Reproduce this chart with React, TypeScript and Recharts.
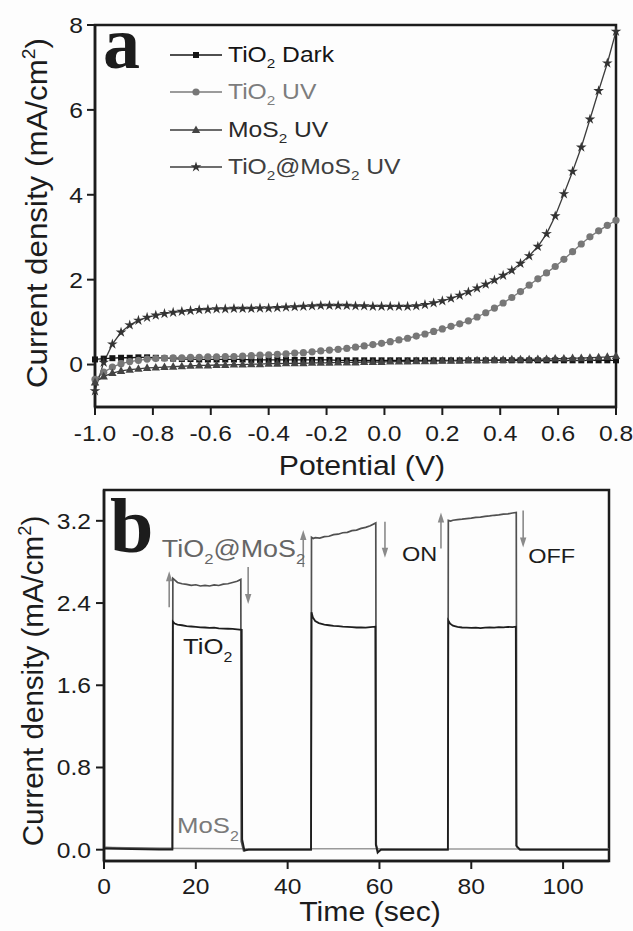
import React from 'react';
import { LineChart, Line, XAxis, YAxis, ReferenceArea, ReferenceDot, ReferenceLine, Legend } from 'recharts';

const FONT = '"Liberation Sans", Arial, Helvetica, sans-serif';
const SERIF = '"Liberation Serif", "Times New Roman", serif';
const INK = '#1c1c1c';
const SX = 1.12; // the lettering in this figure runs a little wide
const TICK = 22;

// ---------- (a) linear sweep, potential in V, current density in mA/cm2 ----------
const potential = [
  -1.0, -0.97, -0.94, -0.91, -0.88, -0.85, -0.82, -0.79, -0.76, -0.73,
  -0.7, -0.67, -0.64, -0.61, -0.58, -0.55, -0.52, -0.49, -0.46, -0.43,
  -0.4, -0.37, -0.34, -0.31, -0.28, -0.25, -0.22, -0.19, -0.16, -0.13,
  -0.1, -0.07, -0.04, -0.01, 0.02, 0.05, 0.08, 0.11, 0.14, 0.17,
  0.2, 0.23, 0.26, 0.29, 0.32, 0.35, 0.38, 0.41, 0.44, 0.47,
  0.5, 0.53, 0.56, 0.59, 0.62, 0.65, 0.68, 0.71, 0.74, 0.77,
  0.8,
];

const tio2Dark = [
  0.12, 0.14, 0.15, 0.16, 0.16, 0.17, 0.17, 0.16, 0.15, 0.14,
  0.13, 0.13, 0.12, 0.12, 0.12, 0.12, 0.12, 0.12, 0.11, 0.11,
  0.11, 0.11, 0.11, 0.11, 0.11, 0.11, 0.11, 0.11, 0.1, 0.1,
  0.1, 0.1, 0.1, 0.1, 0.1, 0.1, 0.1, 0.1, 0.1, 0.1,
  0.1, 0.1, 0.1, 0.1, 0.1, 0.1, 0.1, 0.1, 0.1, 0.1,
  0.1, 0.1, 0.1, 0.1, 0.1, 0.1, 0.1, 0.1, 0.1, 0.1,
  0.1,
];

const tio2Uv = [
  -0.35, -0.18, -0.06, 0.02, 0.07, 0.1, 0.13, 0.14, 0.15, 0.16,
  0.16, 0.17, 0.17, 0.18, 0.18, 0.19, 0.19, 0.2, 0.21, 0.22,
  0.23, 0.24, 0.25, 0.27, 0.28, 0.3, 0.32, 0.34, 0.36, 0.38,
  0.41, 0.44, 0.47, 0.5, 0.54, 0.58, 0.62, 0.67, 0.72, 0.78,
  0.84, 0.9, 0.96, 1.03, 1.12, 1.22, 1.33, 1.45, 1.58, 1.72,
  1.87, 2.02, 2.16, 2.31, 2.48, 2.66, 2.84, 3.01, 3.15, 3.28,
  3.4,
];

const mos2Uv = [
  -0.42, -0.28, -0.2, -0.15, -0.12, -0.1, -0.08, -0.07, -0.06, -0.05,
  -0.04, -0.03, -0.02, -0.02, -0.01, -0.01, 0.0, 0.0, 0.01, 0.01,
  0.02, 0.02, 0.03, 0.03, 0.03, 0.04, 0.04, 0.04, 0.05, 0.05,
  0.05, 0.06, 0.06, 0.06, 0.07, 0.07, 0.07, 0.08, 0.08, 0.08,
  0.09, 0.09, 0.09, 0.1, 0.1, 0.1, 0.11, 0.11, 0.12, 0.12,
  0.12, 0.13, 0.13, 0.14, 0.14, 0.15, 0.15, 0.16, 0.17, 0.18,
  0.2,
];

const compositeUv = [
  -0.62, 0.05, 0.48, 0.76, 0.93, 1.04, 1.11, 1.16, 1.2, 1.23,
  1.25, 1.27, 1.29, 1.3, 1.31, 1.31, 1.32, 1.32, 1.32, 1.33,
  1.33, 1.34, 1.35, 1.36, 1.37, 1.38, 1.39, 1.39, 1.39, 1.39,
  1.38, 1.38, 1.37, 1.37, 1.37, 1.37, 1.37, 1.38, 1.41, 1.45,
  1.5, 1.56, 1.63, 1.71, 1.8, 1.89, 1.99, 2.1, 2.22, 2.38,
  2.56, 2.78, 3.08, 3.5, 4.02, 4.55, 5.12, 5.78, 6.45, 7.1,
  7.85,
];

const xTicksA = [-1.0, -0.8, -0.6, -0.4, -0.2, 0.0, 0.2, 0.4, 0.6, 0.8];
const yTicksA = [0, 2, 4, 6, 8];

// ---------- (b) chopped illumination, [time s, current density mA/cm2] ----------
const compositeTrace: [number, number][] = [
  [0, 0.02], [4, 0.015], [8, 0.012], [12, 0.01], [14.9, 0.01],
  [15, 2.64], [15.5, 2.62], [16, 2.6], [17, 2.588], [18, 2.582], [19, 2.572], [20, 2.578], [21, 2.566],
  [22, 2.572], [23, 2.566], [24, 2.576], [25, 2.571], [26, 2.584], [27, 2.588], [28, 2.6], [29, 2.612], [29.8, 2.63],
  [29.9, 0.08], [30.4, -0.01], [31, 0.0], [38, 0.0], [45.1, 0.0],
  [45.2, 3.04], [45.6, 3.028], [46, 3.036], [47, 3.032], [48, 3.046], [49, 3.05], [50, 3.066], [51, 3.07],
  [52, 3.084], [53, 3.088], [54, 3.104], [55, 3.11], [56, 3.126], [57, 3.136], [58, 3.152], [59.2, 3.18],
  [59.3, 0.05], [59.7, -0.02], [60.4, 0.0], [68, 0.0], [74.9, 0.0],
  [75, 3.205], [75.5, 3.198], [76, 3.206], [77, 3.212], [78, 3.216], [79, 3.222], [80, 3.226], [81, 3.233],
  [82, 3.236], [83, 3.244], [84, 3.248], [85, 3.254], [86, 3.258], [87, 3.266], [88, 3.268], [89, 3.276], [89.8, 3.282],
  [89.9, 0.03], [90.6, 0.0], [100, 0.0], [110, 0.0],
];

const tio2Trace: [number, number][] = [
  [0, 0.01], [6, 0.005], [12, 0.0], [14.9, 0.0],
  [15, 2.22], [15.4, 2.2], [16, 2.19], [17, 2.184], [18, 2.176], [19, 2.172], [20, 2.168], [21, 2.164],
  [22, 2.162], [23, 2.158], [24, 2.16], [25, 2.154], [26, 2.152], [27, 2.15], [28, 2.148], [29, 2.144], [30, 2.14],
  [30.1, 0.1], [30.6, -0.01], [31.5, 0.0], [38, 0.0], [45.1, 0.0],
  [45.2, 2.31], [45.5, 2.26], [46, 2.225], [46.8, 2.205], [48, 2.19], [49, 2.184], [50, 2.178], [51, 2.176],
  [52, 2.17], [53, 2.168], [54, 2.166], [55, 2.162], [56, 2.164], [57, 2.16], [58, 2.166], [59.1, 2.17],
  [59.2, 0.05], [59.6, -0.03], [60.3, 0.0], [68, 0.0], [74.9, 0.0],
  [75, 2.23], [75.4, 2.2], [76, 2.18], [77, 2.168], [78, 2.162], [79, 2.16], [80, 2.158], [81, 2.16],
  [82, 2.156], [83, 2.16], [84, 2.162], [85, 2.16], [86, 2.166], [87, 2.164], [88, 2.168], [89, 2.166], [89.7, 2.17],
  [89.8, 0.04], [90.6, 0.0], [100, 0.0], [110, 0.0],
];

const mos2Trace: [number, number][] = [
  [0, 0.025], [5, 0.018], [10, 0.014], [20, 0.011], [30, 0.01],
  [45, 0.009], [60, 0.008], [75, 0.007], [90, 0.006], [110, 0.005],
];

const xTicksB = [0, 20, 40, 60, 80, 100];
const yTicksB = [0, 0.8, 1.6, 2.4, 3.2];

// ---------- text helpers: "_2" -> subscript, "^2" -> superscript ----------
function rich(text: string, size: number) {
  const parts = text.split(/([_^]\d)/).filter(Boolean);
  let shift = 0;
  return parts.map((p, i) => {
    if (p[0] === '_' || p[0] === '^') {
      const d = p[0] === '_' ? size * 0.32 : -size * 0.42;
      const el = <tspan key={i} fontSize={size * 0.62} dy={d - shift}>{p[1]}</tspan>;
      shift = d;
      return el;
    }
    const el = <tspan key={i} dy={-shift}>{p}</tspan>;
    shift = 0;
    return el;
  });
}

function richHtml(text: string) {
  return text.split(/([_^]\d)/).filter(Boolean).map((p, i) => {
    if (p[0] === '_') return <span key={i} style={{ fontSize: '0.62em', position: 'relative', top: '0.45em' }}>{p[1]}</span>;
    if (p[0] === '^') return <span key={i} style={{ fontSize: '0.62em', position: 'relative', top: '-0.6em' }}>{p[1]}</span>;
    return <span key={i}>{p}</span>;
  });
}

type TextProps = {
  x: number; y: number; text: string; size: number; fill?: string;
  anchor?: 'start' | 'middle' | 'end'; rotate?: number; sx?: number; family?: string; weight?: number;
};

function SvgText({ x, y, text, size, fill = INK, anchor = 'start', rotate = 0, sx = SX, family = FONT, weight = 400 }: TextProps) {
  return (
    <text
      transform={`translate(${x},${y}) rotate(${rotate}) scale(${sx},1)`}
      fontSize={size}
      fill={fill}
      textAnchor={anchor}
      fontFamily={family}
      fontWeight={weight}
      style={{ whiteSpace: 'pre' }}
    >
      {rich(text, size)}
    </text>
  );
}

const xTick = (fmt: (v: number) => string) => (p: any) => (
  <SvgText x={p.x} y={p.y + 0.71 * TICK} text={fmt(p.payload.value)} size={TICK} anchor="middle" />
);
const yTick = (fmt: (v: number) => string) => (p: any) => (
  <SvgText x={p.x} y={p.y + 0.36 * TICK} text={fmt(p.payload.value)} size={TICK} anchor="end" />
);

// ---------- markers ----------
type Marker = (x: number, y: number) => React.ReactElement;
const square = (c: string): Marker => (x, y) => <rect x={x - 3} y={y - 3} width={6} height={6} fill={c} />;
const circle = (c: string): Marker => (x, y) => <circle cx={x} cy={y} r={3.6} fill={c} />;
const triangle = (c: string): Marker => (x, y) => (
  <polygon points={`${x},${y - 4.6} ${x - 4.2},${y + 3} ${x + 4.2},${y + 3}`} fill={c} />
);
const star = (c: string): Marker => (x, y) => {
  const pts = Array.from({ length: 10 }, (_, k) => {
    const a = (-90 + 36 * k) * (Math.PI / 180);
    const r = k % 2 === 0 ? 5.6 : 2.1;
    return `${x + r * Math.cos(a)},${y + r * Math.sin(a)}`;
  }).join(' ');
  return <polygon points={pts} fill={c} />;
};

const seriesA = [
  { key: 'dark', label: 'TiO_2 Dark', stroke: '#151515', text: '#151515', marker: square('#151515') },
  { key: 'uv', label: 'TiO_2 UV', stroke: '#7a7a7a', text: '#7d7d7d', marker: circle('#777777') },
  { key: 'mos2', label: 'MoS_2 UV', stroke: '#3a3a3a', text: '#2a2a2a', marker: triangle('#444444') },
  { key: 'comp', label: 'TiO_2@MoS_2 UV', stroke: '#3c3c3c', text: '#404040', marker: star('#333333') },
];

const rowsA = potential.map((v, i) => ({
  v,
  dark: tio2Dark[i],
  uv: tio2Uv[i],
  mos2: mos2Uv[i],
  comp: compositeUv[i],
}));

function LegendA() {
  return (
    <div style={{ fontFamily: FONT }}>
      {seriesA.map((s) => (
        <div key={s.key} style={{ display: 'flex', alignItems: 'center', height: 37.5 }}>
          <svg width={58} height={20} style={{ overflow: 'visible', flex: 'none' }}>
            <line x1={0} y1={10} x2={52} y2={10} stroke={s.stroke} strokeWidth={1.6} />
            {s.marker(26, 10)}
          </svg>
          <span
            style={{
              fontSize: 22, color: s.text, display: 'inline-block', whiteSpace: 'nowrap', lineHeight: 1,
              transform: `scaleX(${SX})`, transformOrigin: 'left center',
            }}
          >
            {richHtml(s.label)}
          </span>
        </div>
      ))}
    </div>
  );
}

const axisStyle = {
  tickSize: 8,
  tickLine: { stroke: INK, strokeWidth: 2 },
  axisLine: { stroke: INK, strokeWidth: 2.5 },
  interval: 0 as const,
};

function PanelA() {
  return (
    <LineChart width={633} height={485} data={rowsA} margin={{ top: 25, right: 17, bottom: 38, left: 35 }}>
      <XAxis
        type="number"
        dataKey="v"
        domain={[-1, 0.8]}
        ticks={xTicksA}
        height={40}
        tickMargin={10}
        tick={xTick((v) => v.toFixed(1))}
        label={() => <SvgText x={362} y={475} text="Potential (V)" size={27} anchor="middle" />}
        {...axisStyle}
      />
      <YAxis
        type="number"
        domain={[-1, 8]}
        ticks={yTicksA}
        width={60}
        tickMargin={4}
        tick={yTick((v) => String(v))}
        label={() => (
          <SvgText x={47} y={213} text="Current density (mA/cm^2)" size={29} anchor="middle" rotate={-90} sx={1.08} />
        )}
        {...axisStyle}
      />
      <ReferenceArea x1={-1} x2={0.8} y1={-1} y2={8} fill="none" stroke={INK} strokeWidth={2.5} />
      <Legend
        layout="vertical"
        align="center"
        verticalAlign="middle"
        content={() => <LegendA />}
        wrapperStyle={{ left: 170, top: 36, width: 340, height: 150 }}
      />
      {seriesA.map((s) => (
        <Line
          key={s.key}
          type="linear"
          dataKey={s.key}
          stroke={s.stroke}
          strokeWidth={1.3}
          dot={(p: any) => <g key={p.index}>{p.cy == null ? null : s.marker(p.cx, p.cy)}</g>}
          activeDot={false}
          isAnimationActive={false}
        />
      ))}
      <ReferenceDot
        x={-0.972}
        y={6.99}
        shape={(p: any) => <SvgText x={p.cx} y={p.cy} text="a" size={74} family={SERIF} weight={700} sx={1} />}
      />
    </LineChart>
  );
}

const Arrow = (p: any) => {
  const { x1, y1, x2, y2 } = p;
  const dir = Math.sign(y2 - y1);
  const head = 10;
  const half = 3.2;
  return (
    <g>
      <line x1={x1} y1={y1} x2={x2} y2={y2 - dir * head * 0.6} stroke="#8a8a8a" strokeWidth={1.6} />
      <polygon points={`${x2},${y2} ${x2 - half},${y2 - dir * head} ${x2 + half},${y2 - dir * head}`} fill="#8a8a8a" />
    </g>
  );
};

const note = (text: string, size: number, fill: string, family = FONT, weight = 400, sx = SX) =>
  (p: any) => <SvgText x={p.cx} y={p.cy} text={text} size={size} fill={fill} family={family} weight={weight} sx={sx} />;

const toRows = (trace: [number, number][]) => trace.map(([t, j]) => ({ t, j }));

// panel (b) sits in its own surface starting 30px above its frame
function PanelB() {
  return (
    <LineChart width={633} height={471} margin={{ top: 30, right: 24, bottom: 30, left: 44 }}>
      <XAxis
        type="number"
        dataKey="t"
        domain={[0, 110]}
        ticks={xTicksB}
        height={40}
        tickMargin={9}
        tick={xTick((v) => String(v))}
        label={() => <SvgText x={370} y={461} text="Time (sec)" size={27} anchor="middle" />}
        {...axisStyle}
      />
      <YAxis
        type="number"
        domain={[-0.11, 3.5]}
        ticks={yTicksB}
        width={60}
        tickMargin={5}
        tick={yTick((v) => v.toFixed(1))}
        label={() => (
          <SvgText x={43} y={221} text="Current density (mA/cm^2)" size={29} anchor="middle" rotate={-90} sx={1.02} />
        )}
        {...axisStyle}
      />
      <ReferenceArea x1={0} x2={110} y1={-0.11} y2={3.5} fill="none" stroke={INK} strokeWidth={2.5} />
      <Line data={toRows(mos2Trace)} type="linear" dataKey="j" stroke="#9a9a9a" strokeWidth={1.5} dot={false} activeDot={false} isAnimationActive={false} />
      <Line data={toRows(compositeTrace)} type="linear" dataKey="j" stroke="#505050" strokeWidth={1.7} dot={false} activeDot={false} isAnimationActive={false} />
      <Line data={toRows(tio2Trace)} type="linear" dataKey="j" stroke="#1e1e1e" strokeWidth={1.8} dot={false} activeDot={false} isAnimationActive={false} />

      {/* light on / off markers */}
      <ReferenceLine segment={[{ x: 14.2, y: 2.36 }, { x: 14.2, y: 2.71 }]} shape={Arrow} />
      <ReferenceLine segment={[{ x: 31.4, y: 2.75 }, { x: 31.4, y: 2.39 }]} shape={Arrow} />
      <ReferenceLine segment={[{ x: 43.4, y: 2.75 }, { x: 43.4, y: 3.11 }]} shape={Arrow} />
      <ReferenceLine segment={[{ x: 61.2, y: 3.19 }, { x: 61.2, y: 2.84 }]} shape={Arrow} />
      <ReferenceLine segment={[{ x: 73.4, y: 2.93 }, { x: 73.4, y: 3.28 }]} shape={Arrow} />
      <ReferenceLine segment={[{ x: 91.3, y: 3.3 }, { x: 91.3, y: 2.94 }]} shape={Arrow} />

      <ReferenceDot x={1.3} y={2.9} shape={note('b', 78, INK, SERIF, 700, 1)} />
      <ReferenceDot x={12.6} y={2.85} shape={note('TiO_2@MoS_2', 24, '#666666')} />
      <ReferenceDot x={64.9} y={2.81} shape={note('ON', 21, INK)} />
      <ReferenceDot x={92.4} y={2.79} shape={note('OFF', 21, INK)} />
      <ReferenceDot x={17.2} y={1.9} shape={note('TiO_2', 23, INK)} />
      <ReferenceDot x={15.9} y={0.16} shape={note('MoS_2', 23, '#7a7a7a')} />
    </LineChart>
  );
}

export default function App() {
  return (
    <div style={{ position: 'absolute', left: 0, top: 0, width: 633, height: 931, background: '#fdfdfd', overflow: 'hidden' }}>
      <div style={{ position: 'absolute', left: 0, top: 0 }}>
        <PanelA />
      </div>
      <div style={{ position: 'absolute', left: 0, top: 460 }}>
        <PanelB />
      </div>
    </div>
  );
}
